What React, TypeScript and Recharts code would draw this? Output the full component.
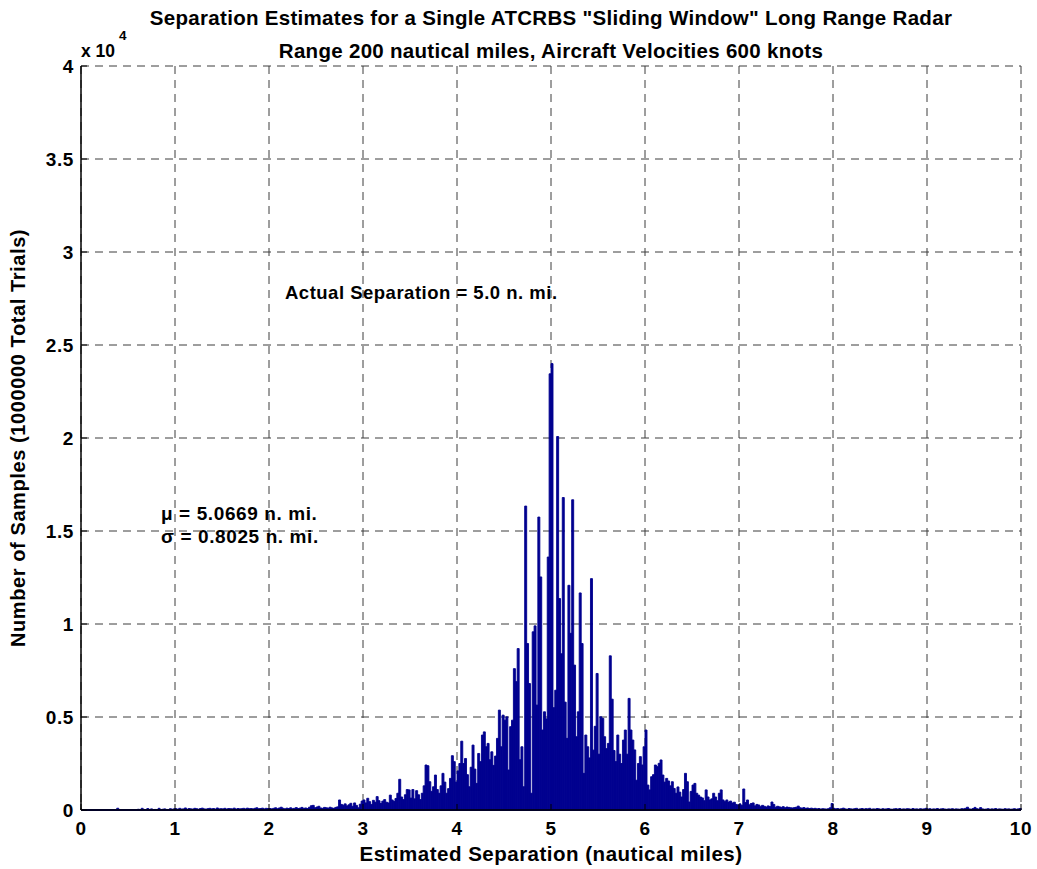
import React from 'react';
import {
  ComposedChart,
  Bar,
  XAxis,
  YAxis,
  CartesianGrid,
  ReferenceLine,
} from 'recharts';

// Histogram of separation estimates, 0.02 n. mi. bins, counts per bin.
const BIN_WIDTH = 0.02;

const bins0to1 = [0, 0, 5, 0, 0, 0, 10, 0, 0, 0, 5, 0, 0, 0, 0, 0, 0, 0, 0, 95, 0, 0, 10, 0, 0, 15, 0, 0, 0, 0, 40, 20, 90, 30, 10, 80, 20, 60, 15, 30, 20, 90, 25, 40, 60, 30, 20, 70, 40, 60];
const bins1to2 = [70, 40, 90, 50, 60, 110, 40, 80, 60, 50, 90, 70, 40, 80, 100, 60, 50, 70, 90, 60, 80, 50, 110, 60, 70, 60, 90, 50, 80, 70, 60, 100, 50, 80, 60, 70, 90, 60, 100, 70, 80, 60, 90, 120, 70, 80, 100, 60, 90, 80];
const bins2to3 = [80, 60, 90, 120, 70, 110, 150, 90, 60, 100, 80, 120, 70, 90, 130, 80, 100, 140, 90, 110, 80, 150, 230, 250, 120, 160, 200, 110, 90, 140, 120, 100, 150, 110, 90, 140, 170, 540, 300, 260, 330, 220, 280, 360, 200, 380, 250, 120, 310, 480];
const bins3to4 = [540, 380, 630, 450, 300, 520, 420, 720, 500, 350, 480, 560, 420, 380, 800, 540, 460, 620, 900, 1650, 700, 560, 820, 1100, 1080, 640, 1100, 600, 1040, 820, 560, 900, 1300, 2420, 2380, 1520, 1000, 1250, 1880, 1100, 900, 1300, 1970, 1500, 900, 1150, 1700, 2920, 2600, 1500];
const bins4to5 = [2100, 2500, 3700, 2500, 2770, 1900, 1250, 2300, 3490, 2200, 1430, 3040, 2600, 4030, 4200, 3400, 3580, 2700, 3130, 2400, 2900, 3850, 5370, 3400, 5100, 4830, 5010, 2150, 4480, 4830, 7600, 6900, 8680, 2700, 3400, 1250, 16340, 8950, 6800, 900, 9580, 9900, 5640, 15750, 12530, 4300, 5280, 4900, 13600, 23450];
const bins5to6 = [24000, 5500, 6440, 20080, 11370, 8400, 16800, 5800, 3850, 12080, 9500, 16680, 7790, 3940, 5280, 11670, 8950, 1970, 4030, 3400, 2800, 12440, 3220, 4500, 7340, 3000, 5010, 4930, 3940, 3300, 3580, 8290, 5960, 3200, 2600, 4030, 3000, 2500, 3760, 4300, 3000, 6000, 4300, 3760, 3230, 1600, 2500, 2870, 2420, 3400];
const bins6to7 = [4300, 1340, 1080, 1790, 1900, 2420, 2330, 2510, 2690, 1880, 1500, 1700, 1560, 1300, 1520, 1160, 900, 1240, 960, 700, 1100, 1970, 1520, 430, 1000, 1340, 1430, 900, 800, 700, 650, 500, 1080, 700, 540, 600, 900, 700, 500, 900, 1080, 540, 450, 540, 430, 480, 380, 420, 300, 270];
const bins7to8 = [330, 250, 1130, 400, 540, 280, 350, 380, 220, 300, 270, 180, 250, 200, 160, 220, 180, 430, 300, 150, 200, 170, 140, 180, 120, 160, 140, 120, 110, 130, 150, 210, 120, 100, 130, 90, 110, 80, 100, 70, 90, 60, 80, 50, 70, 60, 50, 70, 120, 350];
const bins8to9 = [90, 60, 80, 50, 70, 100, 60, 40, 80, 60, 50, 70, 90, 40, 60, 80, 50, 70, 60, 90, 40, 60, 50, 80, 60, 40, 70, 50, 60, 80, 50, 40, 60, 70, 50, 80, 40, 60, 50, 70, 60, 40, 80, 50, 60, 40, 70, 50, 60, 90];
const bins9to10 = [50, 70, 40, 60, 50, 80, 40, 60, 70, 50, 40, 60, 50, 70, 40, 60, 50, 40, 70, 60, 90, 150, 60, 40, 80, 140, 70, 50, 130, 60, 40, 50, 70, 40, 60, 50, 80, 40, 60, 50, 40, 70, 50, 60, 40, 50, 70, 40, 60, 80];

const xTicks = [0, 1, 2, 3, 4, 5, 6, 7, 8, 9, 10];
const yTicks = [0, 5000, 10000, 15000, 20000, 25000, 30000, 35000, 40000];

const titleLines = [
  'Separation Estimates for a Single ATCRBS "Sliding Window" Long Range Radar',
  'Range 200 nautical miles, Aircraft Velocities 600 knots',
];
const xLabel = 'Estimated Separation (nautical miles)';
const yLabel = 'Number of Samples (1000000 Total Trials)';
const actualText = 'Actual Separation = 5.0 n. mi.';
const meanText = 'μ = 5.0669 n. mi.';
const sigmaText = 'σ = 0.8025 n. mi.';

const counts = [
  ...bins0to1, ...bins1to2, ...bins2to3, ...bins3to4, ...bins4to5,
  ...bins5to6, ...bins6to7, ...bins7to8, ...bins8to9, ...bins9to10,
];

// Each row is one bin: its centre (for the numeric axis) and a category key
// (for the band axis that lays the bars edge to edge across 0..10).
const histogram = counts.map((count, i) => ({
  separation: Number((i * BIN_WIDTH + BIN_WIDTH / 2).toFixed(3)),
  bin: `b${i}`,
  count,
}));

const FONT = "'Liberation Sans', Arial, Helvetica, sans-serif";
const BAR_COLOR = '#00008F';
const GRID_COLOR = '#3c3c3c';

const tickStyle = {
  fill: '#000',
  fontSize: 19,
  fontWeight: 700,
  fontFamily: FONT,
  letterSpacing: 0.6,
};

const textStyle: React.CSSProperties = {
  fontFamily: FONT,
  fontWeight: 700,
  fill: '#000',
};

export default function App() {
  return (
    <div style={{ position: 'absolute', left: 0, top: 0, width: 1037, height: 869, background: '#fff' }}>
      <ComposedChart
        width={1037}
        height={869}
        data={histogram}
        margin={{ top: 66, right: 16, bottom: 0, left: 0 }}
        barCategoryGap={0}
        barGap={0}
      >
        <CartesianGrid stroke={GRID_COLOR} strokeDasharray="8 6" strokeWidth={1} />
        <XAxis
          dataKey="separation"
          type="number"
          domain={[0, 10]}
          ticks={xTicks}
          allowDataOverflow
          height={59}
          tickSize={-6}
          tickMargin={18}
          axisLine={{ stroke: '#000', strokeWidth: 1.5 }}
          tickLine={{ stroke: '#000' }}
          tick={tickStyle}
          interval={0}
        />
        <XAxis xAxisId="bins" dataKey="bin" type="category" hide height={0} />
        <XAxis
          xAxisId="top"
          orientation="top"
          type="number"
          domain={[0, 10]}
          ticks={xTicks}
          allowDataOverflow
          height={0}
          tickSize={-6}
          tick={false}
          axisLine={{ stroke: '#000', strokeWidth: 1.5 }}
          tickLine={{ stroke: '#000' }}
        />
        <YAxis
          type="number"
          domain={[0, 40000]}
          ticks={yTicks}
          allowDataOverflow
          width={81}
          tickSize={-6}
          tickMargin={13}
          axisLine={{ stroke: '#000', strokeWidth: 1.5 }}
          tickLine={{ stroke: '#000' }}
          tick={tickStyle}
          tickFormatter={(v: number) => String(v / 10000)}
          interval={0}
        />
        <YAxis
          yAxisId="right"
          orientation="right"
          type="number"
          domain={[0, 40000]}
          ticks={yTicks}
          allowDataOverflow
          width={0}
          tickSize={-6}
          tick={false}
          axisLine={{ stroke: '#000', strokeWidth: 1.5 }}
          tickLine={{ stroke: '#000' }}
        />
        <Bar
          xAxisId="bins"
          dataKey="count"
          fill={BAR_COLOR}
          stroke={BAR_COLOR}
          strokeWidth={0.9}
          isAnimationActive={false}
        />
        <ReferenceLine y={0} stroke={BAR_COLOR} strokeWidth={2} />
      </ComposedChart>

      <svg
        width={1037}
        height={869}
        style={{ position: 'absolute', left: 0, top: 0, pointerEvents: 'none' }}
      >
        <text x={551} y={25} textAnchor="middle" fontSize={20.5} letterSpacing={0.3} style={textStyle}>
          {titleLines[0]}
        </text>
        <text x={551} y={58} textAnchor="middle" fontSize={20.5} letterSpacing={0.3} style={textStyle}>
          {titleLines[1]}
        </text>
        <text x={81} y={57} fontSize={17.5} style={textStyle}>
          x 10
        </text>
        <text x={119} y={40} fontSize={13.5} style={textStyle}>
          4
        </text>
        <text x={551} y={861} textAnchor="middle" fontSize={20.5} letterSpacing={0.5} style={textStyle}>
          {xLabel}
        </text>
        <text
          x={25}
          y={438}
          textAnchor="middle"
          fontSize={20}
          letterSpacing={0.6}
          transform="rotate(-90 25 438)"
          style={textStyle}
        >
          {yLabel}
        </text>
        <text x={285} y={299} fontSize={18.5} letterSpacing={0.5} style={textStyle}>
          {actualText}
        </text>
        <text x={161} y={520} fontSize={19} letterSpacing={0.6} style={textStyle}>
          {meanText}
        </text>
        <text x={161} y={543} fontSize={19} letterSpacing={0.6} style={textStyle}>
          {sigmaText}
        </text>
      </svg>
    </div>
  );
}
